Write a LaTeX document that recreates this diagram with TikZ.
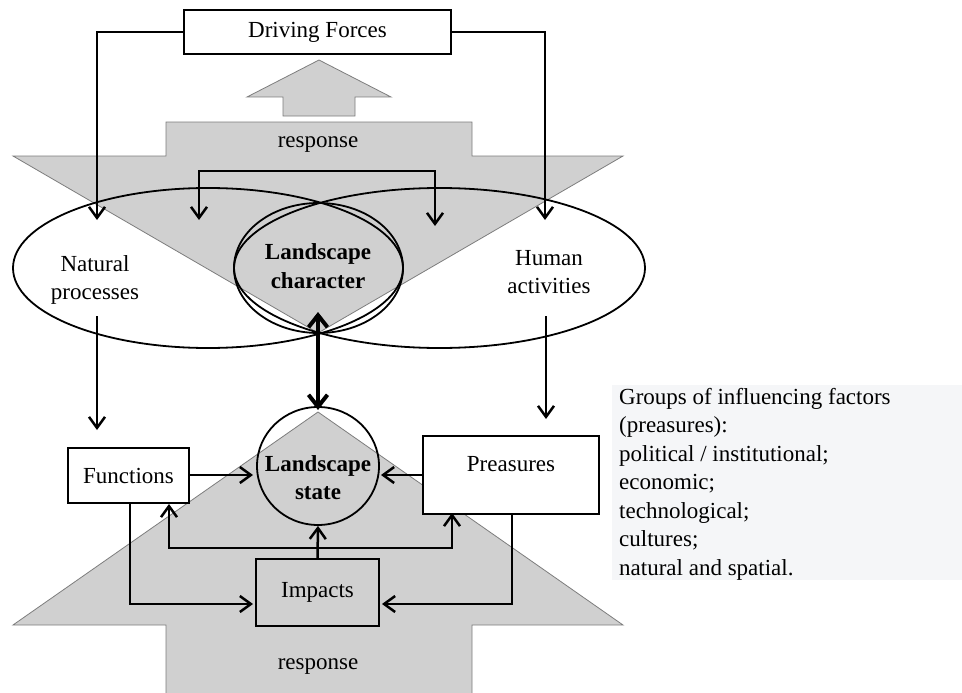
\documentclass[tikz,border=0pt]{standalone}
\usepackage{fontspec}
\setmainfont{Liberation Serif}
\usetikzlibrary{shapes.geometric,arrows.meta}
\definecolor{shade}{RGB}{208,208,208}
\definecolor{shadeline}{RGB}{125,125,125}
\definecolor{notebg}{RGB}{245,246,248}
\begin{document}
\begin{tikzpicture}[x=1pt,y=-1pt,
  every node/.style={font=\fontsize{23}{28.5}\selectfont, inner sep=0pt},
  box/.style={draw, line width=2.2pt, fill=white},
  ell/.style={draw, ellipse, line width=1.8pt},
  arr/.style={line width=2.5pt, -{Straight Barb[length=11pt,width=16pt]}},
  arrs/.style={line width=2.5pt, {Straight Barb[length=11pt,width=16pt]}-{Straight Barb[length=11pt,width=16pt]}},
  bigarr/.style={line width=4pt, {Straight Barb[length=12pt,width=19pt]}-{Straight Barb[length=12pt,width=19pt]}},
  grayshape/.style={fill=shade, draw=shadeline, line width=0.8pt},
  bold/.style={font=\fontsize{23}{28.5}\selectfont\bfseries, align=center}
]
\useasboundingbox (0,0) rectangle (962,693);

% gray response arrows
\draw[grayshape] (166,122) -- (472,122) -- (472,156) -- (623,156) -- (318,333)
  -- (13,156) -- (166,156) -- cycle;
\draw[grayshape] (283,116) -- (355,116) -- (355,97) -- (391,97) -- (319,60)
  -- (247,97) -- (283,97) -- cycle;
\draw[grayshape] (166,694) -- (166,625) -- (13,625) -- (318,412) -- (623,625)
  -- (472,625) -- (472,694) -- cycle;

\node (resptop) at (318,145) {response};
\node (respbot) at (318,667) {response};

% ellipses
\node[ell, minimum width=390pt, minimum height=160pt] (nat) at (208,268) {};
\node[ell, minimum width=411pt, minimum height=160pt] (hum) at (439.5,268) {};
\node[ell, minimum width=169pt, minimum height=130pt] (lc) at (318.5,268) {};
\node[ell, minimum width=122pt, minimum height=118pt] (ls) at (318,466) {};

\node[align=center] (natlbl) at (95,280) {Natural\\processes};
\node[align=center] (humlbl) at (549,272) {Human\\activities};
\node[bold] (lclbl) at (318,266) {Landscape\\character};
\node[bold] (lslbl) at (318,477.5) {Landscape\\state};

% boxes
\node[box, minimum width=267pt, minimum height=44pt] (df) at (317.5,32) {Driving Forces};
\node[box, minimum width=121pt, minimum height=55pt] (fun) at (128.5,475.5) {Functions};
\node[box, minimum width=176pt, minimum height=78pt] (pre) at (511,475) {};
\node (prelbl) at (511,464) {Preasures};
\node[draw, line width=2.2pt, minimum width=123pt, minimum height=67pt] (imp) at (317.5,592.5) {Impacts};

% coordinates
\coordinate (natin) at (97,220);
\coordinate (humin) at (545,220);
\coordinate (barL) at (199,171);
\coordinate (barR) at (435,171);
\coordinate (cl) at (199,220);
\coordinate (cr) at (435,226);
\coordinate (bigT) at (318,312);
\coordinate (bigB) at (318,410);
\coordinate (natout) at (97,316);
\coordinate (funin) at (97,430);
\coordinate (humout) at (546,316);
\coordinate (prein) at (546,419);
\coordinate (lsL) at (253,475);
\coordinate (lsR) at (381,475);
\coordinate (funB) at (169,504);
\coordinate (loopL) at (169,548);
\coordinate (loopR) at (452,548);
\coordinate (preB) at (452,513);
\coordinate (funB2) at (130,503);
\coordinate (impL) at (253,604);
\coordinate (preB2) at (512,514);
\coordinate (impR) at (382,604);

% connectors
\draw[arr] (df.west) -| (natin);
\draw[arr] (df.east) -| (humin);
\draw[arrs] (cl) -- (barL) -- (barR) -- (cr);
\draw[bigarr] (bigT) -- (bigB);
\draw[arr] (natout) -- (funin);
\draw[arr] (humout) -- (prein);
\draw[arr] (fun.east |- lsL) -- (lsL);
\draw[arr] (pre.west |- lsR) -- (lsR);
\draw[arr] (imp.north) -- (ls.south);
\draw[arrs] (funB) -- (loopL) -- (loopR) -- (preB);
\draw[arr] (funB2) |- (impL);
\draw[arr] (preB2) |- (impR);

% note
\node[fill=notebg, minimum width=350pt, minimum height=195pt, anchor=north west] (notebg) at (612,385) {};
\node[align=left, anchor=north west] (note) at (619,388)
  {Groups of influencing factors\\(preasures):\\political / institutional;\\economic;\\technological;\\cultures;\\natural and spatial.};
\end{tikzpicture}
\end{document}
